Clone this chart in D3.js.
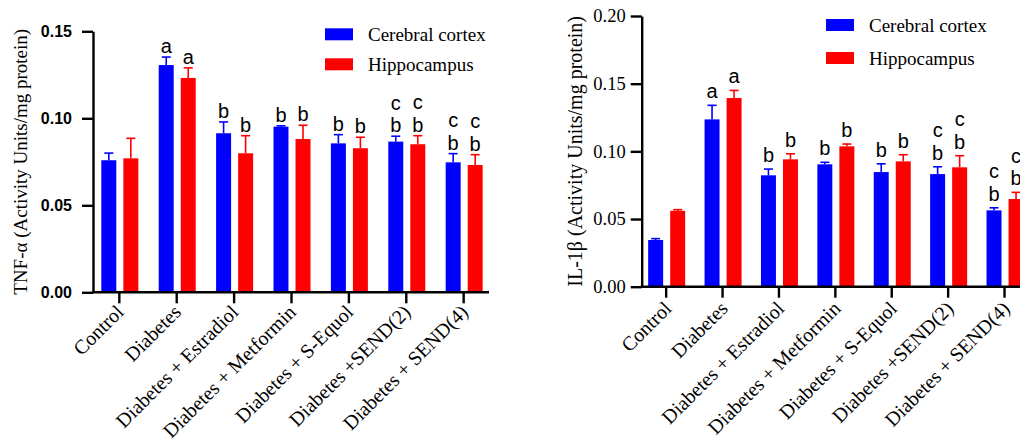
<!DOCTYPE html>
<html>
<head>
<meta charset="utf-8">
<script src="https://cdn.jsdelivr.net/npm/d3@7"></script>
<style>
  html, body { margin: 0; padding: 0; background: #fff; }
  svg { display: block; }
</style>
</head>
<body>
<svg id="chart" width="1020" height="444"></svg>
<script>
// Treatment groups on the x axis
const categories = ["Control", "Diabetes", "Diabetes + Estradiol", "Diabetes + Metformin",
  "Diabetes + S-Equol", "Diabetes +SEND(2)", "Diabetes + SEND(4)"];
const seriesNames = ["Cerebral cortex", "Hippocampus"];
const seriesColors = ["#0000ff", "#ff0000"];

// TNF-α (Activity Units/mg protein): mean and SEM
const tnfCortex     = [0.0759, 0.1306, 0.0914, 0.0952, 0.0856, 0.0866, 0.0747];
const tnfCortexSem  = [0.0041, 0.0046, 0.0065, 0.0005, 0.0050, 0.0031, 0.0050];
const tnfHippo      = [0.0770, 0.1232, 0.0799, 0.0881, 0.0828, 0.0851, 0.0732];
const tnfHippoSem   = [0.0115, 0.0058, 0.0101, 0.0079, 0.0063, 0.0049, 0.0059];

// IL-1β (Activity Units/mg protein): mean and SEM
const ilCortex      = [0.0345, 0.1236, 0.0823, 0.0904, 0.0847, 0.0832, 0.0564];
const ilCortexSem   = [0.0010, 0.0104, 0.0046, 0.0015, 0.0061, 0.0054, 0.0019];
const ilHippo       = [0.0561, 0.1394, 0.0941, 0.1037, 0.0926, 0.0882, 0.0648];
const ilHippoSem    = [0.0008, 0.0056, 0.0041, 0.0017, 0.0049, 0.0086, 0.0049];

// Significance letters, listed from bottom to top
const sigLetters = [[], ["a"], ["b"], ["b"], ["b"], ["b", "c"], ["b", "c"]];

const tnfTicks = [0, 0.05, 0.10, 0.15];
const ilTicks  = [0, 0.05, 0.10, 0.15, 0.20];

const svg = d3.select("#chart");
const SERIF = "'Liberation Serif', 'Times New Roman', serif";
const SANS  = "'Liberation Sans', Arial, sans-serif";

function drawPanel(cfg) {
  const g = svg.append("g");
  const x = d3.scalePoint().domain(categories).range(cfg.xRange).padding(cfg.xPad);
  const y = d3.scaleLinear().domain([0, cfg.yMax]).range(cfg.yRange);
  const x1 = d3.scaleBand().domain(seriesNames).range([-17.5, 19.5]).paddingInner(0.32);

  const series = [
    { name: seriesNames[0], color: seriesColors[0], mean: cfg.cortex, sem: cfg.cortexSem },
    { name: seriesNames[1], color: seriesColors[1], mean: cfg.hippo,  sem: cfg.hippoSem }
  ];

  series.forEach(s => {
    const rows = categories.map((c, i) => ({ c, i, v: s.mean[i], e: s.sem[i] }));
    const sg = g.append("g");
    const bx = d => x(d.c) + x1(s.name);
    const bw = x1.bandwidth();

    // error bars (upper half only, with caps)
    sg.selectAll("line.err").data(rows).join("line")
      .attr("x1", d => bx(d) + bw / 2).attr("x2", d => bx(d) + bw / 2)
      .attr("y1", d => y(d.v)).attr("y2", d => y(d.v + d.e))
      .attr("stroke", s.color).attr("stroke-width", 1.6);
    sg.selectAll("line.cap").data(rows).join("line")
      .attr("x1", d => bx(d) + bw / 2 - 4.5).attr("x2", d => bx(d) + bw / 2 + 4.5)
      .attr("y1", d => y(d.v + d.e)).attr("y2", d => y(d.v + d.e))
      .attr("stroke", s.color).attr("stroke-width", 1.6);

    sg.selectAll("rect").data(rows).join("rect")
      .attr("x", bx).attr("width", bw)
      .attr("y", d => y(d.v)).attr("height", d => y(0) - y(d.v))
      .attr("fill", s.color);

    // significance letters
    rows.forEach(d => {
      sigLetters[d.i].forEach((L, k) => {
        g.append("text")
          .attr("x", bx(d) + bw / 2)
          .attr("y", y(d.v + d.e) - cfg.letterGap - k * 22.5)
          .attr("text-anchor", "middle")
          .attr("font-family", SANS).attr("font-size", 20)
          .attr("fill", "#000").text(L);
      });
    });
  });

  // y axis
  const ya = g.append("g").attr("transform", `translate(${cfg.xRange[0]},0)`)
    .call(d3.axisLeft(y).tickValues(cfg.ticks).tickFormat(d3.format(".2f"))
      .tickSize(11).tickSizeOuter(0).tickPadding(cfg.tickPad));
  ya.selectAll("path, line").attr("stroke", "#000").attr("stroke-width", 2.4);
  ya.selectAll("text").attr("fill", "#000")
    .attr("font-family", cfg.tickFont).attr("font-size", cfg.tickSize)
    .attr("font-weight", cfg.tickWeight);

  // x axis
  const xa = g.append("g").attr("transform", `translate(0,${cfg.yRange[0]})`)
    .call(d3.axisBottom(x).tickSize(11).tickSizeOuter(0).tickFormat(""));
  xa.select("path").attr("d", `M${cfg.xRange[0] - 1},0H${cfg.xRange[1]}`);
  xa.selectAll("path, line").attr("stroke", "#000").attr("stroke-width", 2.4);

  g.append("g").selectAll("text").data(categories).join("text")
    .attr("transform", d => `translate(${x(d) + cfg.labDx},${cfg.yRange[0] + cfg.labDy}) rotate(-45)`)
    .attr("text-anchor", "end")
    .attr("font-family", SERIF).attr("font-size", 20).attr("fill", "#000")
    .text(d => d);

  // y title
  g.append("text")
    .attr("transform", `translate(${cfg.titleX},${(cfg.yRange[0] + cfg.yRange[1]) / 2}) rotate(-90)`)
    .attr("text-anchor", "middle")
    .attr("font-family", SERIF).attr("font-size", cfg.titleSize).attr("fill", "#000")
    .text(cfg.title);

  // legend
  const lg = g.append("g").attr("transform", `translate(${cfg.legX},${cfg.legY})`);
  seriesNames.forEach((n, i) => {
    lg.append("rect").attr("x", 0).attr("y", i * cfg.legStep).attr("width", 28).attr("height", 12)
      .attr("fill", seriesColors[i]);
    lg.append("text").attr("x", 43).attr("y", i * cfg.legStep + 12.5)
      .attr("font-family", SERIF).attr("font-size", 19).attr("fill", "#000").text(n);
  });
}

drawPanel({
  cortex: tnfCortex, cortexSem: tnfCortexSem, hippo: tnfHippo, hippoSem: tnfHippoSem,
  xRange: [93, 489], xPad: 0.45, yMax: 0.15, yRange: [292.3, 31.3], ticks: tnfTicks,
  tickFont: SANS, tickSize: 16, tickWeight: "bold", tickPad: 10,
  letterGap: 4, labDx: 6, labDy: 21,
  title: "TNF-α (Activity Units/mg protein)", titleX: 27, titleSize: 19,
  legX: 325, legY: 28.3, legStep: 30
});

drawPanel({
  cortex: ilCortex, cortexSem: ilCortexSem, hippo: ilHippo, hippoSem: ilHippoSem,
  xRange: [641.7, 1028], xPad: 0.425, yMax: 0.20, yRange: [286.7, 16], ticks: ilTicks,
  tickFont: SERIF, tickSize: 18.5, tickWeight: "normal", tickPad: 5,
  letterGap: 7, labDx: 7, labDy: 23,
  title: "IL-1β (Activity Units/mg protein)", titleX: 582, titleSize: 20,
  legX: 826, legY: 19, legStep: 33
});
</script>
</body>
</html>
